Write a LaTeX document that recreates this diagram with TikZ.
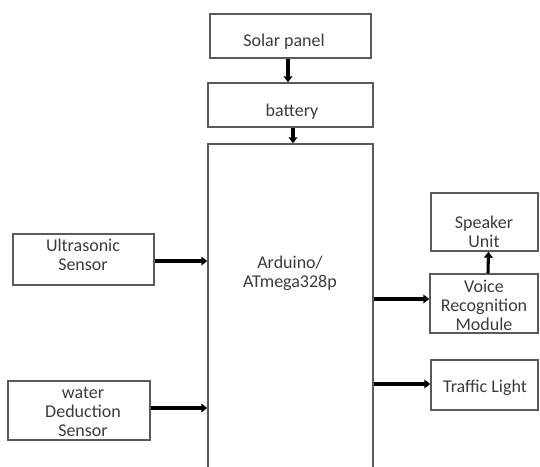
\documentclass[tikz,border=0pt]{standalone}
\usepackage{fontspec}
\setmainfont{Carlito}
\usetikzlibrary{arrows.meta,calc}
\definecolor{txtgray}{HTML}{3C3C3C}
\definecolor{boxgray}{HTML}{5A5A5A}
\begin{document}
\begin{tikzpicture}[x=0.75pt,y=-0.75pt,
  box/.style={draw=boxgray,line width=1.1pt,rectangle,inner sep=0pt,fill=white},
  txt/.style={text=txtgray,font=\fontsize{13.5}{14.3}\selectfont,align=center,inner sep=0pt},
  arr/.style={line width=2.3pt,-{Triangle[length=4.5pt,width=6.5pt]}}]
\useasboundingbox (0,0) rectangle (540,467);
\clip (0,0) rectangle (540,467);
\fill[white] (0,0) rectangle (540,467);
% boxes
\node[box,minimum width=161*0.75pt,minimum height=44*0.75pt] (solar) at (290.5,36) {};
\node[box,minimum width=165*0.75pt,minimum height=44*0.75pt] (battery) at (290.5,105) {};
\node[box,minimum width=165*0.75pt,minimum height=340*0.75pt] (main) at (290.5,314) {};
\node[box,minimum width=141*0.75pt,minimum height=51*0.75pt] (ultra) at (83.5,259.5) {};
\node[box,minimum width=142*0.75pt,minimum height=59*0.75pt] (water) at (79,410.5) {};
\node[box,minimum width=107*0.75pt,minimum height=58*0.75pt] (speaker) at (484.5,222) {};
\node[box,minimum width=108*0.75pt,minimum height=59*0.75pt] (voice) at (484,303.5) {};
\node[box,minimum width=107*0.75pt,minimum height=50*0.75pt] (traffic) at (484.5,385) {};
% texts
\node[txt] (tsolar) at (284,42) {Solar panel};
\node[txt] (tbattery) at (292,112) {battery};
\node[txt] (tmain) at (290,273) {Arduino/\\ATmega328p};
\node[txt] (tultra) at (83,255) {Ultrasonic\\Sensor};
\node[txt] (twater) at (83,412) {water\\Deduction\\Sensor};
\node[txt] (tspeaker) at (484,232) {Speaker\\Unit};
\node[txt] (tvoice) at (484,305) {Voice\\Recognition\\Module};
\node[txt] (ttraffic) at (485,388) {Traffic Light};
% connectors
\draw[arr] ($(solar.south)+(-2.5,0)$) -- ($(battery.north)+(-2.5,0)$);
\draw[arr] ($(battery.south)+(2.5,0)$) -- ($(main.north)+(2.5,0)$);
\draw[arr] ($(ultra.east)+(0,1.5)$) -- ($(ultra.east -| main.west)+(0,1.5)$);
\draw[arr] ($(water.east)+(0,-2.5)$) -- ($(water.east -| main.west)+(0,-2.5)$);
\draw[arr] ($(voice.west -| main.east)+(0,-4.5)$) -- ($(voice.west)+(0,-4.5)$);
\draw[arr] ($(voice.north)+(4,0)$) -- ($(speaker.south)+(4,0)$);
\draw[arr] ($(traffic.west -| main.east)+(0,-1)$) -- ($(traffic.west)+(0,-1)$);
\end{tikzpicture}
\end{document}
